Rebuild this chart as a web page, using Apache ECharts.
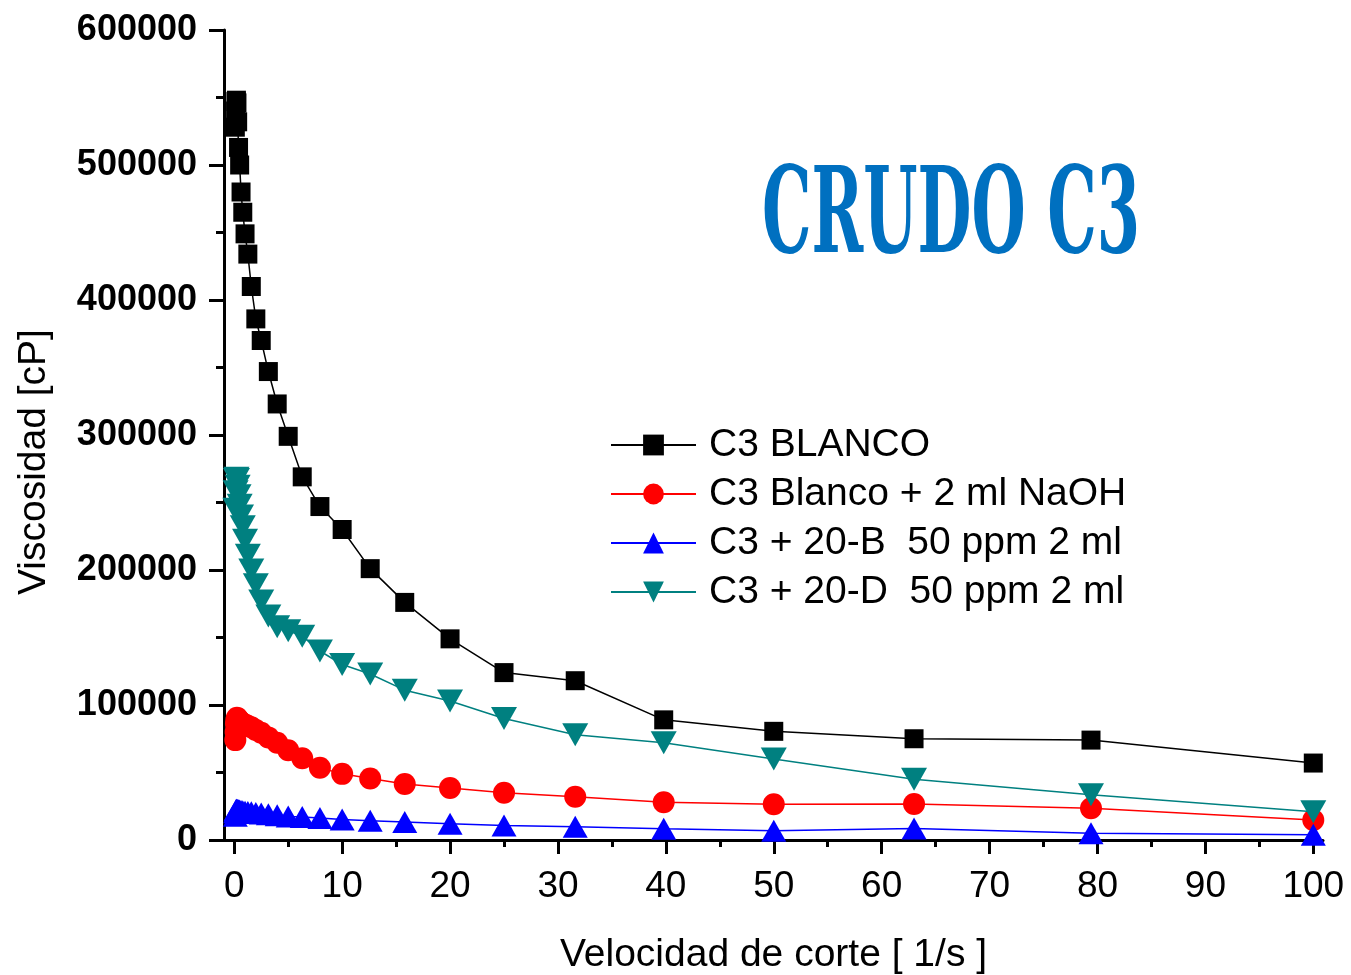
<!DOCTYPE html>
<html>
<head>
<meta charset="utf-8">
<script src="https://cdn.jsdelivr.net/npm/echarts@6/dist/echarts.min.js"></script>
<style>
  html, body { margin: 0; padding: 0; background: #fff; }
  #chart { width: 1351px; height: 975px; }
</style>
</head>
<body>
<div id="chart"></div>
<script>
// shear rate [1/s]
const shear = [0.1, 0.126, 0.158, 0.2, 0.25, 0.316, 0.398, 0.5, 0.63, 0.79,
  1.0, 1.26, 1.58, 2.0, 2.5, 3.16, 3.98, 5.0, 6.3, 7.94,
  10, 12.6, 15.8, 20, 25, 31.6, 39.8, 50, 63, 79.4, 100];

// viscosity [cP]
const blanco = [528000, 540000, 547000, 548000, 546000, 532000, 513000, 500000, 480000, 465000,
  449000, 434000, 410000, 386000, 370000, 347000, 323000, 299000, 269000, 247000,
  230000, 201000, 176000, 149000, 124000, 118000, 89000, 80500, 75000, 74000, 57000];
const blancoNaoh = [74000, 80000, 86000, 89000, 90500, 90000, 89000, 88000, 87000, 86000,
  85500, 84500, 83500, 81500, 79500, 76000, 72000, 66500, 60500, 53500,
  49000, 45500, 41500, 38500, 35000, 32000, 28000, 26500, 26700, 23500, 14800];
const c20b = [18000, 20500, 22000, 22500, 22500, 22300, 22000, 21800, 21500, 21300,
  21000, 20800, 20500, 20000, 19600, 19000, 18300, 17500, 17000, 16300,
  15200, 14300, 13300, 12000, 10800, 9800, 8300, 6800, 8600, 5000, 3800];
const c20d = [245000, 258000, 267000, 268000, 267000, 262000, 255000, 248000, 240000, 232000,
  222000, 211000, 200000, 189000, 177000, 166000, 158000, 155000, 151000, 140000,
  130000, 123000, 111000, 103000, 90000, 78000, 72000, 60000, 45000, 33500, 21000];

const seriesNames = ['C3 BLANCO', 'C3 Blanco + 2 ml NaOH', 'C3 + 20-B  50 ppm 2 ml', 'C3 + 20-D  50 ppm 2 ml'];
const xTicks = [0, 10, 20, 30, 40, 50, 60, 70, 80, 90, 100];
const xMinorTicks = [5, 15, 25, 35, 45, 55, 65, 75, 85, 95];
const title = 'CRUDO C3';

const pairs = ys => shear.map((x, i) => [x, ys[i]]);
const font = '"Liberation Sans", Arial, sans-serif';

// title font is a condensed slab; squeeze a bold serif to the same width
const titleFont = 'bold 120px "DejaVu Serif Condensed", "DejaVu Serif", serif';
const ctx = document.createElement('canvas').getContext('2d');
ctx.font = titleFont;
const titleScale = 378 / ctx.measureText(title).width;

const chart = echarts.init(document.getElementById('chart'), null, {renderer: 'canvas'});

function lineSeries(name, ys, color, symbol, size, z) {
  return {
    name: name,
    type: 'line',
    data: pairs(ys),
    symbol: symbol,
    symbolSize: size,
    z: z,
    color: color,
    lineStyle: {color: color, width: 1.5},
    itemStyle: {color: color},
    emphasis: {disabled: true},
  };
}

const axisLine = {show: true, onZero: false, lineStyle: {color: '#000', width: 3}};

chart.setOption({
  animation: false,
  grid: {left: 224, right: 28, top: 30, bottom: 135, containLabel: false, outerBoundsMode: 'none'},
  legend: {
    orient: 'vertical',
    left: 610,
    top: 424,
    padding: 0,
    itemWidth: 85,
    itemHeight: 26,
    itemGap: 7,
    textStyle: {fontFamily: font, fontSize: 39, color: '#000', lineHeight: 42, padding: [0, 0, 0, 8]},
    data: seriesNames,
  },
  xAxis: [
    {
      type: 'value',
      min: -0.95,
      max: 100.9,
      position: 'bottom',
      name: 'Velocidad de corte [ 1/s ]',
      nameLocation: 'middle',
      nameGap: 96,
      nameTextStyle: {fontFamily: font, fontSize: 39, color: '#000'},
      axisLine: axisLine,
      axisTick: {show: true, inside: false, length: 14, customValues: xTicks, lineStyle: {color: '#000', width: 3}},
      axisLabel: {show: true, customValues: xTicks, margin: 28, fontFamily: font, fontSize: 37, color: '#000'},
      splitLine: {show: false},
    },
    {
      type: 'value',
      min: -0.95,
      max: 100.9,
      position: 'bottom',
      axisLine: {show: false, onZero: false},
      axisTick: {show: true, inside: false, length: 7, customValues: xMinorTicks, lineStyle: {color: '#000', width: 3}},
      axisLabel: {show: false},
      splitLine: {show: false},
    },
  ],
  yAxis: {
    type: 'value',
    min: 0,
    max: 600000,
    interval: 100000,
    name: 'Viscosidad [cP]',
    nameLocation: 'middle',
    nameGap: 170,
    nameTextStyle: {fontFamily: font, fontSize: 39, color: '#000', padding: [0, 54, 0, 0]},
    axisLine: axisLine,
    axisTick: {show: true, inside: false, length: 15, lineStyle: {color: '#000', width: 3}},
    minorTick: {show: true, splitNumber: 2, length: 8, lineStyle: {color: '#000', width: 3}},
    axisLabel: {margin: 27, fontFamily: font, fontSize: 36, fontWeight: 'bold', color: '#000', formatter: v => String(v)},
    splitLine: {show: false},
    minorSplitLine: {show: false},
  },
  series: [
    lineSeries(seriesNames[0], blanco, '#000000', 'rect', 19, 2),
    lineSeries(seriesNames[1], blancoNaoh, '#ff0000', 'circle', 22, 3),
    lineSeries(seriesNames[2], c20b, '#0000ff', 'triangle', [25, 22], 4),
    lineSeries(seriesNames[3], c20d, '#008080', 'path://M0,0 L10,0 L5,8.7 Z', [26, 23], 5),
  ],
  graphic: [{
    type: 'text',
    x: 762,
    y: 221,
    scaleX: titleScale,
    style: {text: title, font: titleFont, fill: '#0070c0', verticalAlign: 'middle', align: 'left'},
  }],
});
</script>
</body>
</html>
